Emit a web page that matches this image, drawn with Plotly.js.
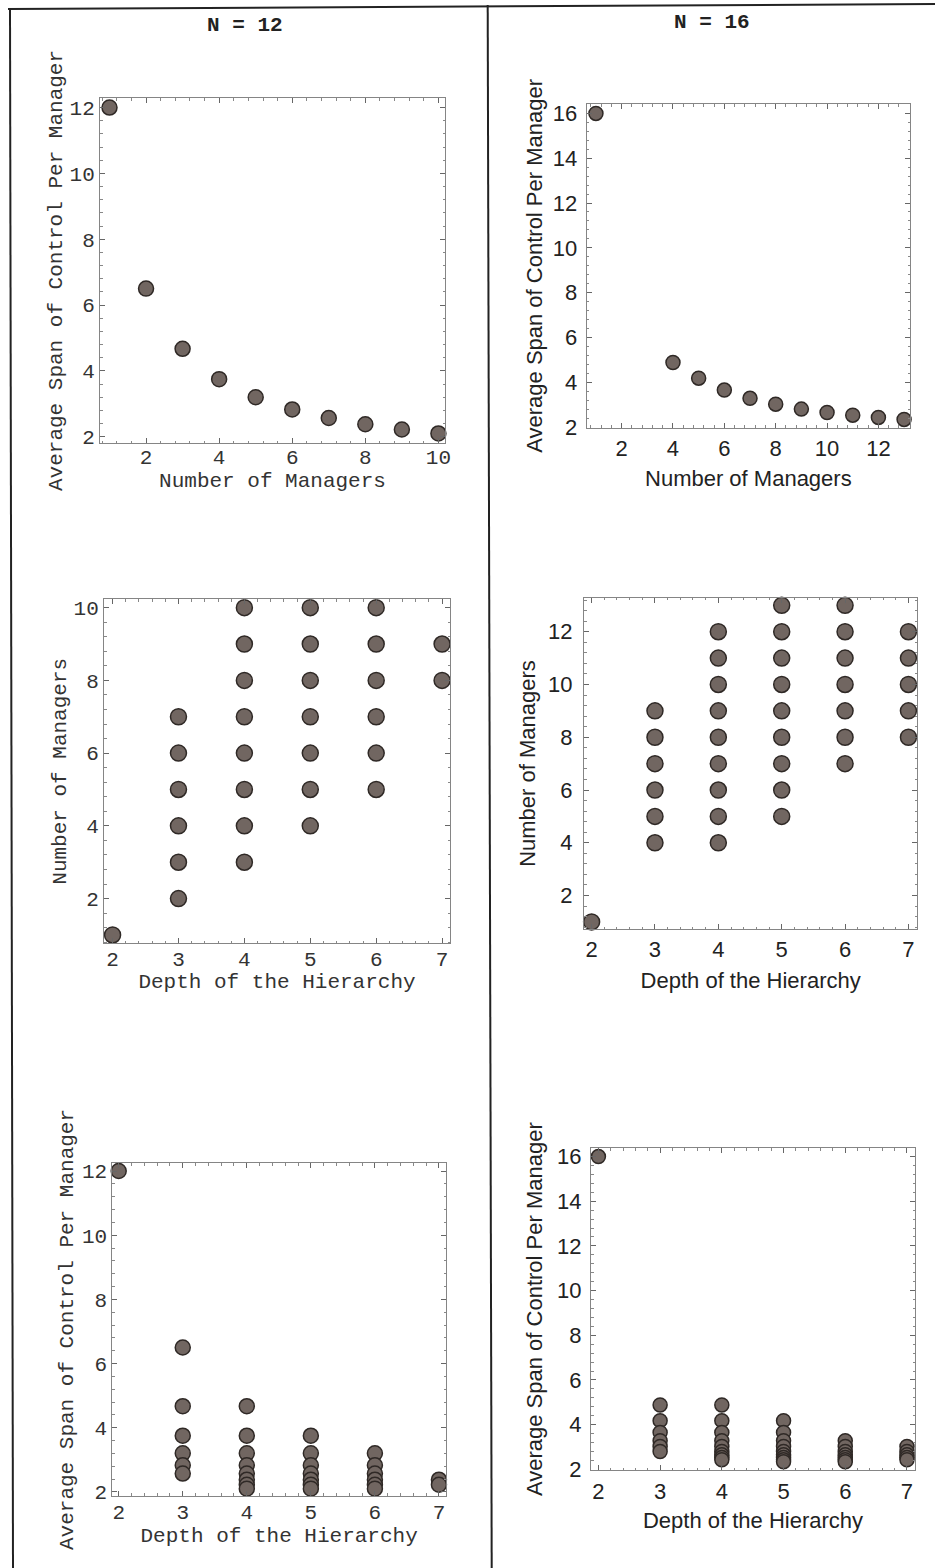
<!DOCTYPE html>
<html>
<head>
<meta charset="utf-8">
<script src="https://cdn.plot.ly/plotly-3.0.1.min.js"></script>
<style>html,body{margin:0;padding:0;background:#fff;}#chart{width:935px;height:1568px;}</style>
</head>
<body>
<div id="chart"></div>
<script>
// ---------- DATA ----------
// N = 12
const managersN12 = [1, 2, 3, 4, 5, 6, 7, 8, 9, 10];
const spanN12 = [12, 6.5, 4.67, 3.75, 3.2, 2.83, 2.57, 2.38, 2.22, 2.1];
const depthN12 = [2, 3, 4, 5, 6, 7];
const managersByDepthN12 = [
  [1],
  [2, 3, 4, 5, 6, 7],
  [3, 4, 5, 6, 7, 8, 9, 10],
  [4, 5, 6, 7, 8, 9, 10],
  [5, 6, 7, 8, 9, 10],
  [8, 9]
];
// N = 16
const managersN16 = [1, 4, 5, 6, 7, 8, 9, 10, 11, 12, 13];
const spanN16 = [16, 4.88, 4.18, 3.65, 3.28, 3.02, 2.8, 2.65, 2.53, 2.43, 2.34];
const depthN16 = [2, 3, 4, 5, 6, 7];
const managersByDepthN16 = [
  [1],
  [4, 5, 6, 7, 8, 9],
  [4, 5, 6, 7, 8, 9, 10, 11, 12],
  [5, 6, 7, 8, 9, 10, 11, 12, 13],
  [7, 8, 9, 10, 11, 12, 13],
  [8, 9, 10, 11, 12]
];
const panelTitles = ['N = 12', 'N = 16'];
const labelSpan = 'Average Span of Control Per Manager';
const labelManagers = 'Number of Managers';
const labelDepth = 'Depth of the Hierarchy';

// ---------- BUILD POINTS ----------
function flatten(depths, byDepth, mgrs, spans) {
  const d = [], m = [], s = [];
  depths.forEach((dep, i) => {
    byDepth[i].forEach(mm => {
      d.push(dep); m.push(mm);
      s.push(spans[mgrs.indexOf(mm)]);
    });
  });
  return {d, m, s};
}
const p12 = flatten(depthN12, managersByDepthN12, managersN12, spanN12);
const p16 = flatten(depthN16, managersByDepthN16, managersN16, spanN16);

const W = 935, H = 1568;
const fx = px => px / W;
const fy = py => 1 - py / H;

const markerBase = {color: '#716661', line: {color: '#2f2926', width: 1.5}};
function mk(size) { return Object.assign({size: size}, markerBase); }

const traces = [
  {x: managersN12, y: spanN12, xaxis: 'x', yaxis: 'y', size: 15},
  {x: managersN16, y: spanN16, xaxis: 'x2', yaxis: 'y2', size: 14},
  {x: p12.d, y: p12.m, xaxis: 'x3', yaxis: 'y3', size: 16},
  {x: p16.d, y: p16.m, xaxis: 'x4', yaxis: 'y4', size: 16},
  {x: p12.d, y: p12.s, xaxis: 'x5', yaxis: 'y5', size: 15},
  {x: p16.d, y: p16.s, xaxis: 'x6', yaxis: 'y6', size: 14}
].map(t => ({
  type: 'scatter', mode: 'markers', x: t.x, y: t.y, xaxis: t.xaxis, yaxis: t.yaxis,
  marker: mk(t.size), cliponaxis: false, showlegend: false, hoverinfo: 'x+y'
}));

const monoFont = {family: 'Liberation Mono, Courier New, monospace', size: 21, color: '#333'};
const sansFont = {family: 'Liberation Sans, Arial, sans-serif', size: 22, color: '#222'};

function axis(opts) {
  const a = {
    domain: opts.domain, range: opts.range, dtick: opts.dtick, tick0: opts.tick0 || 0,
    tickmode: 'linear',
    showgrid: false, zeroline: false,
    showline: true, linecolor: '#858585', linewidth: 1, mirror: 'ticks',
    ticks: 'inside', ticklen: 5, tickcolor: '#666', tickwidth: 1,
    minor: {ticks: 'inside', ticklen: 2.5, tickcolor: '#888', dtick: opts.minor, tick0: 0, showgrid: false},
    tickfont: opts.font,
    title: {text: opts.title, font: opts.font, standoff: opts.standoff},
    anchor: opts.anchor, fixedrange: true,
    automargin: false
  };
  if (opts.labelStandoff !== undefined) a.ticklabelstandoff = opts.labelStandoff;
  return a;
}

const layout = {
  width: W, height: H,
  margin: {l: 0, r: 0, t: 0, b: 0},
  paper_bgcolor: '#ffffff', plot_bgcolor: '#ffffff',
  showlegend: false,
  xaxis:  axis({domain: [fx(100), fx(445)], range: [0.74, 10.18], dtick: 2, minor: 0.4, font: monoFont, title: labelManagers, anchor: 'y', standoff: 0, labelStandoff: -5}),
  yaxis:  axis({domain: [fy(443), fy(98)], range: [1.81, 12.29], dtick: 2, minor: 0.4, font: monoFont, title: labelSpan, anchor: 'x', standoff: 1}),
  xaxis2: axis({domain: [fx(586.7), fx(910)], range: [0.64, 13.23], dtick: 2, minor: 0.4, font: sansFont, title: labelManagers, anchor: 'y2', standoff: 10, labelStandoff: 1}),
  yaxis2: axis({domain: [fy(427.7), fy(104)], range: [1.97, 16.42], dtick: 2, minor: 0.4, font: sansFont, title: labelSpan, anchor: 'x2', standoff: 4, labelStandoff: 4}),
  xaxis3: axis({domain: [fx(104), fx(450)], range: [1.87, 7.12], dtick: 1, minor: 0.2, font: monoFont, title: labelDepth, anchor: 'y3', standoff: 0, labelStandoff: -4}),
  yaxis3: axis({domain: [fy(943.3), fy(599.3)], range: [0.77, 10.23], dtick: 2, minor: 0.4, font: monoFont, title: labelManagers, anchor: 'x3', standoff: 1}),
  xaxis4: axis({domain: [fx(584), fx(917.3)], range: [1.88, 7.14], dtick: 1, minor: 0.2, font: sansFont, title: labelDepth, anchor: 'y4', standoff: 11, labelStandoff: 0}),
  yaxis4: axis({domain: [fy(929.3), fy(597.7)], range: [0.72, 13.29], dtick: 2, minor: 0.4, font: sansFont, title: labelManagers, anchor: 'x4', standoff: 6, labelStandoff: 6}),
  xaxis5: axis({domain: [fx(112.3), fx(446)], range: [1.9, 7.11], dtick: 1, minor: 0.2, font: monoFont, title: labelDepth, anchor: 'y5', standoff: 0, labelStandoff: -3}),
  yaxis5: axis({domain: [fy(1495.7), fy(1163.3)], range: [1.88, 12.24], dtick: 2, minor: 0.4, font: monoFont, title: labelSpan, anchor: 'x5', standoff: 2}),
  xaxis6: axis({domain: [fx(591), fx(915)], range: [1.88, 7.13], dtick: 1, minor: 0.2, font: sansFont, title: labelDepth, anchor: 'y6', standoff: 9, labelStandoff: 2}),
  yaxis6: axis({domain: [fy(1470), fy(1148.3)], range: [1.97, 16.37], dtick: 2, minor: 0.4, font: sansFont, title: labelSpan, anchor: 'x6', standoff: 8, labelStandoff: 4}),
  annotations: [
    {text: '<b>' + panelTitles[0] + '</b>', xref: 'paper', yref: 'paper', x: fx(245), y: fy(25), xanchor: 'center', yanchor: 'middle', showarrow: false,
     font: {family: 'Liberation Mono, Courier New, monospace', size: 21, color: '#222'}},
    {text: '<b>' + panelTitles[1] + '</b>', xref: 'paper', yref: 'paper', x: fx(712), y: fy(23), xanchor: 'center', yanchor: 'middle', showarrow: false,
     font: {family: 'Liberation Mono, Courier New, monospace', size: 21, color: '#222'}}
  ],
  shapes: [
    {type: 'line', xref: 'paper', yref: 'paper', x0: fx(8), y0: fy(9), x1: fx(935), y1: fy(4), line: {color: '#222', width: 2}},
    {type: 'line', xref: 'paper', yref: 'paper', x0: fx(10), y0: fy(9), x1: fx(13), y1: fy(1568), line: {color: '#222', width: 2}},
    {type: 'line', xref: 'paper', yref: 'paper', x0: fx(487.7), y0: fy(5), x1: fx(491.7), y1: fy(1568), line: {color: '#222', width: 2}}
  ]
};

Plotly.newPlot('chart', traces, layout, {staticPlot: true, displayModeBar: false});
</script>
</body>
</html>
